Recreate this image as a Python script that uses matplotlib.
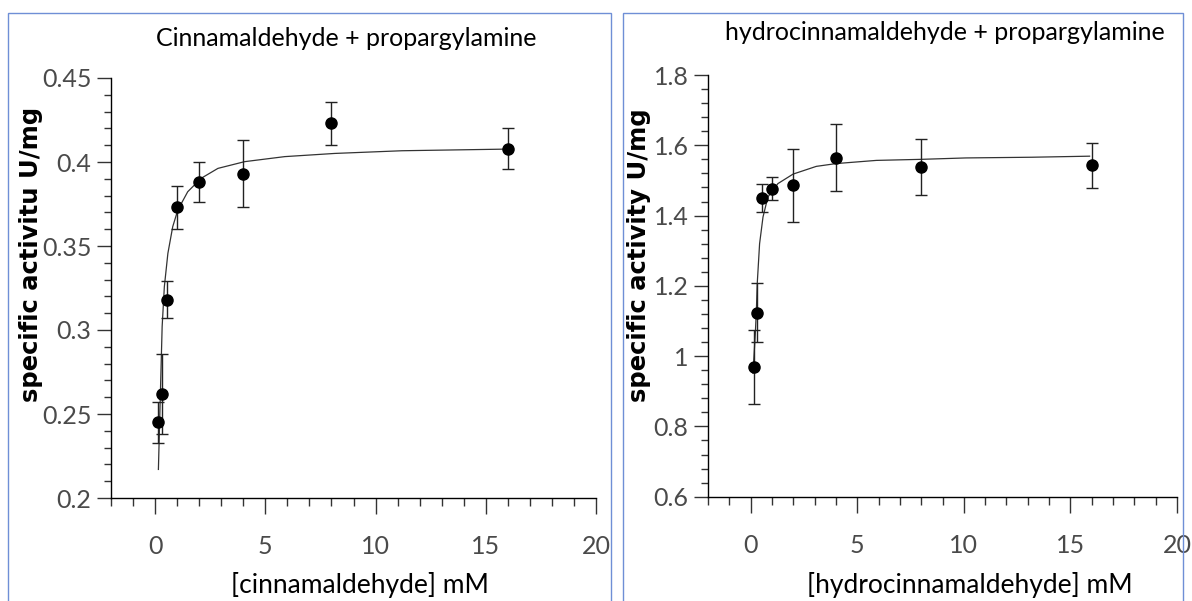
import matplotlib
matplotlib.use('Agg')
import matplotlib.pyplot as plt
from matplotlib.ticker import MultipleLocator, FuncFormatter
from matplotlib.patches import Rectangle
from matplotlib import font_manager

# ---------------- data ----------------
cin_conc = [0.15, 0.3, 0.55, 1, 2, 4, 8, 16]
cin_act = [0.245, 0.262, 0.318, 0.373, 0.388, 0.393, 0.423, 0.408]
cin_err = [0.012, 0.024, 0.011, 0.013, 0.012, 0.020, 0.013, 0.012]
cin_fit_x = [0.15, 0.24, 0.32, 0.42, 0.58, 0.80, 1.03, 1.48, 2.09, 2.85, 4.06, 5.88, 8.15, 11.2, 16.06]
cin_fit_y = [0.217, 0.2623, 0.302, 0.3258, 0.3456, 0.3615, 0.3714, 0.3823, 0.3903, 0.3962, 0.4002,
             0.4032, 0.4051, 0.4067, 0.4077]

hyd_conc = [0.15, 0.3, 0.53, 1, 2, 4, 8, 16]
hyd_act = [0.968, 1.123, 1.451, 1.477, 1.486, 1.565, 1.538, 1.543]
hyd_err = [0.105, 0.084, 0.040, 0.034, 0.104, 0.096, 0.080, 0.064]
hyd_fit_x = [0.11, 0.22, 0.27, 0.31, 0.42, 0.58, 0.81, 1.28, 1.99, 3.08, 4.02, 5.9, 8.0, 10.1, 13.2, 15.9]
hyd_fit_y = [0.951, 1.065, 1.131, 1.207, 1.32, 1.396, 1.453, 1.491, 1.518, 1.540, 1.548, 1.557,
             1.560, 1.564, 1.566, 1.569]

titles = ["Cinnamaldehyde + propargylamine", "hydrocinnamaldehyde + propargylamine"]
xlabels = ["[cinnamaldehyde] mM", "[hydrocinnamaldehyde] mM"]
ylabels = ["specific activitu U/mg", "specific activity U/mg"]

# ---------------- fonts ----------------
avail = {f.name for f in font_manager.fontManager.ttflist}
main_font = 'Lato' if 'Lato' in avail else 'DejaVu Sans'
plt.rcParams['font.family'] = [main_font, 'DejaVu Sans']

fig = plt.figure(figsize=(11.92, 6.01), dpi=100)

# panel frames
for x0, x1 in [(8, 611), (623, 1183)]:
    fig.patches.append(Rectangle((x0 / 1192, -0.02), (x1 - x0) / 1192, 1 - 13 / 601 + 0.02,
                                 transform=fig.transFigure, fill=False,
                                 edgecolor='#6f8fd6', linewidth=1.0))

ax1 = fig.add_axes([111 / 1192, 103 / 601, 485 / 1192, 420 / 601])
ax2 = fig.add_axes([708 / 1192, 104.3 / 601, 469 / 1192, 421.7 / 601])

panels = [
    (ax1, cin_conc, cin_act, cin_err, cin_fit_x, cin_fit_y, (0.2, 0.45), 0.05, 0.01),
    (ax2, hyd_conc, hyd_act, hyd_err, hyd_fit_x, hyd_fit_y, (0.6, 1.8), 0.2, 0.04),
]

fmt = FuncFormatter(lambda v, p: f"{v:g}")
for i, (ax, x, y, e, fx, fy, ylim, ymaj, ymin) in enumerate(panels):
    ax.plot(fx, fy, color='#333333', lw=0.9, zorder=2)
    ax.errorbar(x, y, yerr=e, fmt='o', color='black', ms=8, capsize=4.6,
                elinewidth=1.0, capthick=1.0, ecolor='#222222', zorder=3)
    ax.set_xlim(-2, 20)
    ax.set_ylim(*ylim)
    ax.xaxis.set_major_locator(MultipleLocator(5))
    ax.xaxis.set_minor_locator(MultipleLocator(1))
    ax.yaxis.set_major_locator(MultipleLocator(ymaj))
    ax.yaxis.set_minor_locator(MultipleLocator(ymin))
    ax.xaxis.set_major_formatter(fmt)
    ax.yaxis.set_major_formatter(fmt)
    ax.spines['top'].set_visible(False)
    ax.spines['right'].set_visible(False)
    for s in ('left', 'bottom'):
        ax.spines[s].set_linewidth(1.0)
    ax.tick_params(axis='x', which='major', direction='out', length=11.5, width=1, pad=15,
                   labelsize=18, labelcolor='#4a4a4a', color='#333333')
    ax.tick_params(axis='x', which='minor', direction='out', length=5.8, width=1, color='#333333')
    ax.tick_params(axis='y', which='major', direction='out', length=10, width=1, pad=4,
                   labelsize=18, labelcolor='#4a4a4a', color='#333333')
    ax.tick_params(axis='y', which='minor', direction='out', length=5, width=1, color='#333333')

# titles
fig.text(346 / 1192, 1 - 38 / 601, titles[0], ha='center', va='center', fontsize=18, color='black')
fig.text(945 / 1192, 1 - 33 / 601, titles[1], ha='center', va='center', fontsize=18, color='black')
# x labels
fig.text(360 / 1192, 1 - 585 / 601, xlabels[0], ha='center', va='center', fontsize=19, color='black')
fig.text(970 / 1192, 1 - 585 / 601, xlabels[1], ha='center', va='center', fontsize=19, color='black')
# y labels
fig.text(31 / 1192, 1 - 254 / 601, ylabels[0], ha='center', va='center', rotation=90,
         fontsize=17.5, fontweight='bold', family='DejaVu Sans', color='black')
fig.text(639 / 1192, 1 - 255 / 601, ylabels[1], ha='center', va='center', rotation=90,
         fontsize=17.5, fontweight='bold', family='DejaVu Sans', color='black')

fig.savefig('out.png', dpi=100)
